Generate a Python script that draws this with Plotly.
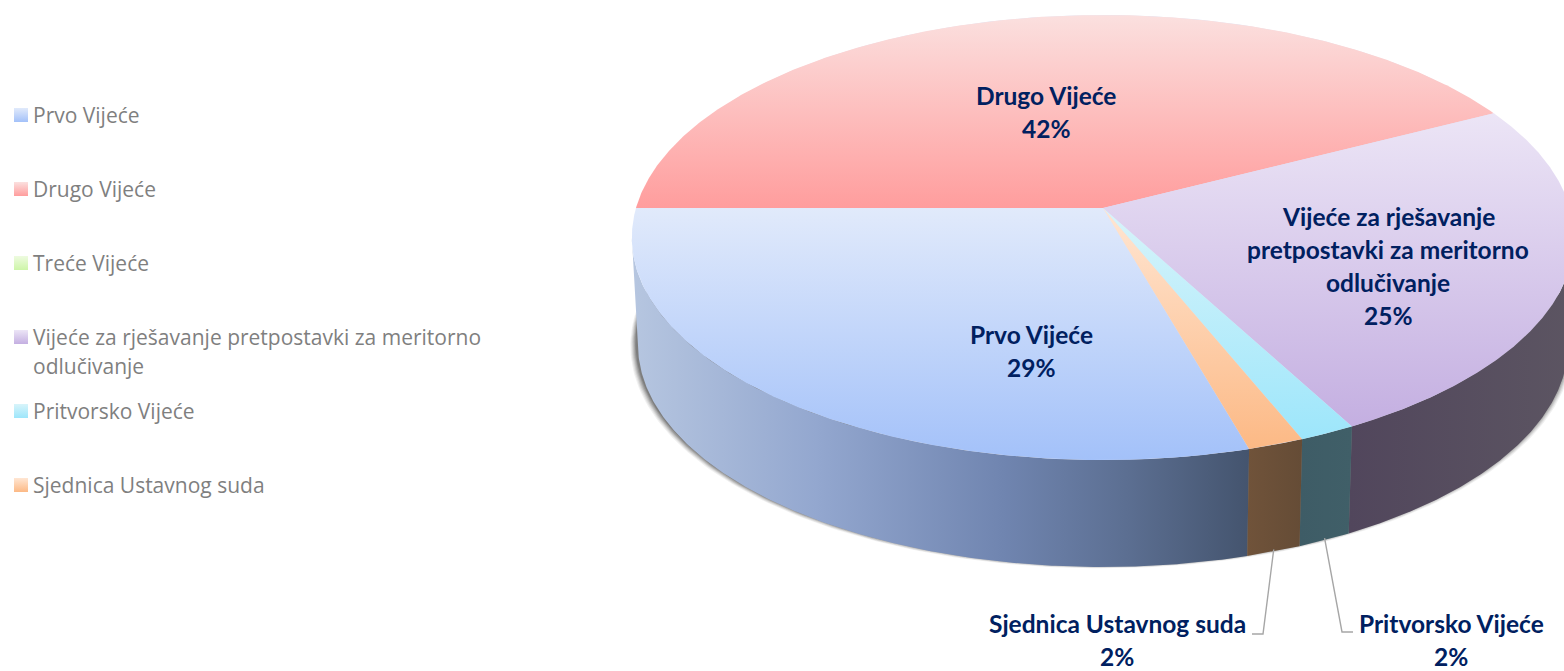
import numpy as np
import plotly.graph_objects as go

# --- data -----------------------------------------------------------------
categories = ["Prvo Vijeće", "Drugo Vijeće", "Treće Vijeće",
              "Vijeće za rješavanje pretpostavki za meritorno odlučivanje",
              "Pritvorsko Vijeće", "Sjednica Ustavnog suda"]
shares = [29.4, 42.4, 0.0, 24.8, 1.7, 1.7]
legend_lines = [["Prvo Vijeće"], ["Drugo Vijeće"], ["Treće Vijeće"],
                ["Vijeće za rješavanje pretpostavki za meritorno", "odlučivanje"],
                ["Pritvorsko Vijeće"], ["Sjednica Ustavnog suda"]]
label_lines = [["Prvo Vijeće"], ["Drugo Vijeće"], None,
               ["Vijeće za rješavanje", "pretpostavki za meritorno", "odlučivanje"],
               ["Pritvorsko Vijeće"], ["Sjednica Ustavnog suda"]]
top_light = ["#e1eafb", "#fbe0df", "#eefbe0", "#ece5f6", "#d8f4fa", "#ffe6d3"]
top_deep = ["#a3c1f9", "#ff9d9d", "#cdf5a8", "#c4afe1", "#9de6fb", "#fcb985"]
side_scales = [
    [[0, "#b6c6e0"], [.3, "#93a7cf"], [.6, "#7085b0"], [.8, "#5c6f92"], [1, "#44546e"]],
    [[0, "#806060"], [1, "#806060"]],
    [[0, "#708050"], [1, "#708050"]],
    [[0, "#51465c"], [1, "#5c5562"]],
    [[0, "#3e5c66"], [1, "#405f68"]],
    [[0, "#70533a"], [1, "#654c36"]],
]

# --- layout constants -----------------------------------------------------
W, H = 1564, 671
CX, CY, R, K, P = 1103, 208, 467, 218.6, 0.1326
DEPTH, BOTTOM_SCALE = 107, 0.987
TEXT_NAVY, TEXT_GREY, LEADER = "#002060", "#7f7f7f", "#a6a6a6"
LABEL_FONT = "Lato"
LEGEND_FONT = "Open Sans"
LABEL_SIZE, LEGEND_SIZE = 24.5, 21
LINE_STEP = 33
label_pos = {0: (1031, 334), 1: (1046, 95), 3: (1388, 216), 4: (1451, 623), 5: (1117, 623)}
legend_y = [115, 189, 263, 337, 411, 485]


def rim(theta_deg, scale=1.0, dy=0.0):
    """theta runs clockwise from the left-hand point of the disc."""
    t = np.radians(theta_deg)
    X, Y = -np.cos(t), -np.sin(t)
    d = 1 - P * Y
    return CX + scale * R * X / d, CY + dy + K * Y / d


def bottom(theta_deg):
    return rim(theta_deg, BOTTOM_SCALE, DEPTH)


fig = go.Figure()

# soft shadow below the disc
full = np.linspace(0, 360, 361)
for grow, alpha in [(6, .08), (5, .10), (4, .14), (3, .18), (2, .24), (1, .3)]:
    x, y = rim(full, BOTTOM_SCALE + grow / R, DEPTH + grow * .55 - 2)
    x = x - 1.5
    fig.add_trace(go.Scatter(x=x, y=y, mode="lines", fill="toself", line_width=0,
                             fillcolor=f"rgba(70,70,70,{alpha})", hoverinfo="skip", showlegend=False))

edges = np.concatenate([[0], np.cumsum(shares)]) / sum(shares) * 360
# categories start at the lower-centre, Prvo ending at theta = 360
offset = 360 - edges[1]
starts = (edges[:-1] + offset)
ends = (edges[1:] + offset)
starts = np.where(starts >= 360, starts - 360, starts)
ends = np.where(ends > 360, ends - 360, ends)

hidden = np.degrees(np.arcsin(P))
vis_lo, vis_hi = 180 + hidden, 360 - hidden

# side walls
for i, name in enumerate(categories):
    if shares[i] == 0:
        continue
    lo, hi = max(starts[i], vis_lo), min(ends[i], vis_hi)
    if hi <= lo:
        continue
    th = np.linspace(lo, hi, 240)
    tx, ty = rim(th)
    bx, by = bottom(th[::-1])
    xs, ys = np.r_[tx, bx, tx[0]], np.r_[ty, by, ty[0]]
    fig.add_trace(go.Scatter(
        x=xs, y=ys, mode="lines", fill="toself", line_width=0, name=name,
        hoverinfo="skip", showlegend=False,
        fillgradient=dict(type="horizontal", start=float(xs.min()), stop=float(xs.max()),
                          colorscale=side_scales[i])))

# light disc under the top faces, so that no dark seam shows between slices
ux, uy = rim(full, 0.997)
fig.add_trace(go.Scatter(x=ux, y=uy, mode="lines", fill="toself", line_width=0,
                         fillcolor="#dfe3f4", hoverinfo="skip", showlegend=False))

# top faces
for i, name in enumerate(categories):
    if shares[i] == 0:
        continue
    th = np.linspace(starts[i], ends[i], 400)
    rx, ry = rim(th)
    xs, ys = np.r_[CX, rx, CX], np.r_[CY, ry, CY]
    fig.add_trace(go.Scatter(
        x=xs, y=ys, mode="lines", fill="toself", line_width=0, name=name,
        hovertemplate=f"{name}: {round(shares[i])}%<extra></extra>", showlegend=False,
        fillgradient=dict(type="vertical", start=float(ys.min()), stop=float(ys.max()),
                          colorscale=[[0, top_light[i]], [1, top_deep[i]]])))

annotations = []


def text(x, y, s, size, color, font, bold=False, anchor="center"):
    annotations.append(dict(x=x, y=y, xref="x", yref="y", text=f"<b>{s}</b>" if bold else s,
                            showarrow=False, xanchor=anchor, yanchor="middle",
                            font=dict(family=font, size=size, color=color)))


# data labels
for i, lines in enumerate(label_lines):
    if lines is None:
        continue
    lx, ly = label_pos[i]
    for j, line in enumerate(lines + [f"{round(shares[i])}%"]):
        text(lx, ly + j * LINE_STEP, line, LABEL_SIZE, TEXT_NAVY, LABEL_FONT, bold=True)

# leader lines from the lower rim of the two small slices
for i, elbow, end in [(5, (1263, 634), (1252, 634)), (4, (1342, 632), (1353, 632))]:
    ax, ay = bottom((starts[i] + ends[i]) / 2)
    fig.add_trace(go.Scatter(x=[ax, elbow[0], end[0]], y=[ay - 2, elbow[1], end[1]], mode="lines",
                             line=dict(color=LEADER, width=1.4), hoverinfo="skip", showlegend=False))

# legend
for i, lines in enumerate(legend_lines):
    yc = legend_y[i]
    sx = [14, 28, 28, 14, 14]
    sy = [yc - 7, yc - 7, yc + 7, yc + 7, yc - 7]
    fig.add_trace(go.Scatter(x=sx, y=sy, mode="lines", fill="toself", line_width=0, hoverinfo="skip",
                             showlegend=False,
                             fillgradient=dict(type="vertical", start=yc - 7, stop=yc + 7,
                                               colorscale=[[0, top_light[i]], [1, top_deep[i]]])))
    for j, line in enumerate(lines):
        text(31, yc + j * 29, line, LEGEND_SIZE, TEXT_GREY, LEGEND_FONT, anchor="left")

fig.update_layout(
    width=W, height=H, margin=dict(l=0, r=0, t=0, b=0),
    paper_bgcolor="white", plot_bgcolor="white", showlegend=False, annotations=annotations,
    xaxis=dict(range=[0, W], visible=False, fixedrange=True),
    yaxis=dict(range=[H, 0], visible=False, fixedrange=True),
)
fig.write_html("out.html", config={"displayModeBar": False},
               post_script="document.body.style.margin='0';document.body.style.overflow='hidden';")
